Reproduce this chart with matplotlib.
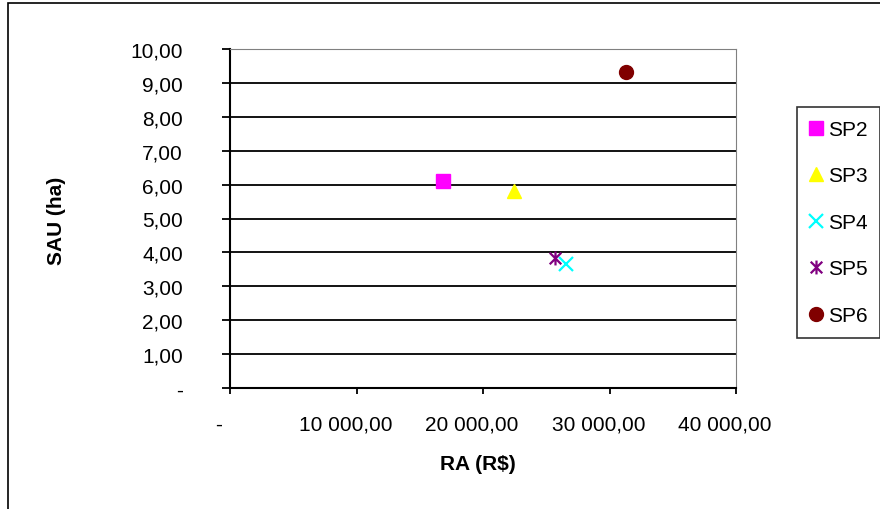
import numpy as np
import matplotlib.pyplot as plt
import matplotlib.transforms as mtransforms
from matplotlib.path import Path
from matplotlib.patches import Rectangle

plt.rcParams['font.family'] = ['Liberation Sans', 'DejaVu Sans']

# data
labels = ['SP2', 'SP3', 'SP4', 'SP5', 'SP6']
ra = [16800, 22450, 26600, 25700, 31300]
sau = [6.10, 5.80, 3.66, 3.83, 9.32]

colors = ['#ff00ff', '#ffff00', '#00ffff', '#800080', '#800000']

# excel-like star marker: x with vertical bar
star = Path([(-1, -1), (1, 1), (-1, 1), (1, -1), (0, -1.2), (0, 1.2)],
            [Path.MOVETO, Path.LINETO, Path.MOVETO, Path.LINETO, Path.MOVETO, Path.LINETO])
markers = ['s', '^', 'x', star, 'o']

xticks = [0, 10000, 20000, 30000, 40000]
xticklabels = ['-', '10 000,00', '20 000,00', '30 000,00', '40 000,00']
yticks = np.arange(0, 11)
yticklabels = ['-'] + ['%d,00' % v for v in yticks[1:]]

fs = 15

fig = plt.figure(figsize=(8.8, 5.1), dpi=100)
ax = fig.add_axes([230/880, 1-389/510, 506/880, 339/510])

for i in range(len(labels)):
    ax.plot(ra[i], sau[i], linestyle='none', marker=markers[i], color=colors[i],
            markersize=10, markeredgewidth=1.6 if i in (2, 3) else 1,
            label=labels[i], zorder=5)

ax.set_xlim(0, 40000)
ax.set_ylim(0, 10)
ax.set_xticks(xticks)
ax.set_xticklabels(xticklabels, fontsize=fs)
ax.set_yticks(yticks)
ax.set_yticklabels(yticklabels, fontsize=fs)

for y in yticks[1:-1]:
    ax.axhline(y, color='black', linewidth=1.3, zorder=1)

ax.spines['left'].set_linewidth(1.5)
ax.spines['bottom'].set_linewidth(1.5)
ax.spines['top'].set_color('#808080')
ax.spines['right'].set_color('#808080')
ax.tick_params(axis='y', direction='out', length=6, width=1.3, pad=28)
ax.tick_params(axis='x', direction='out', length=4, width=1.3, pad=15)

shift = mtransforms.ScaledTranslation(-11/100, 0, fig.dpi_scale_trans)
for lab in ax.get_xticklabels():
    lab.set_transform(lab.get_transform() + shift)

fig.text(478/880, 1-465/510, 'RA (R$)', fontsize=fs, fontweight='bold',
         ha='center', va='center')
fig.text(57/880, 1-221/510, 'SAU (ha)', fontsize=fs, fontweight='bold',
         ha='center', va='center', rotation=90)

leg = ax.legend(loc='upper left', bbox_to_anchor=(797/880, 1-108/510),
                bbox_transform=fig.transFigure, fontsize=fs, frameon=True,
                fancybox=False, edgecolor='black',
                handlelength=0.6, handletextpad=0.25, labelspacing=1.32,
                borderpad=0.62, borderaxespad=0)
leg.get_frame().set_linewidth(1.2)

fig.patches.append(Rectangle((8/880, -0.05), 1.0, 1.05-4/510,
                             transform=fig.transFigure, fill=False,
                             edgecolor='black', linewidth=1.2))

fig.savefig('out.png', dpi=100)
